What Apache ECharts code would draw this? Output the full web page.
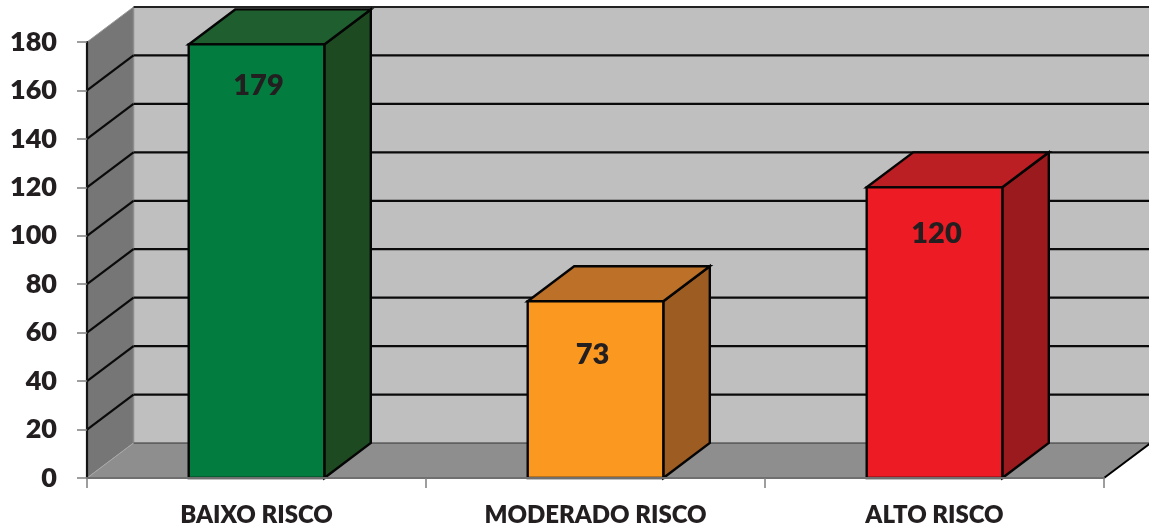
<!DOCTYPE html>
<html>
<head>
<meta charset="utf-8">
<style>html,body{margin:0;padding:0;background:#fff}#c{width:1149px;height:528px}</style>
<script src="https://cdn.jsdelivr.net/npm/echarts@6/dist/echarts.min.js"></script>
</head>
<body>
<div id="c"></div>
<script>
const categories = ['BAIXO RISCO', 'MODERADO RISCO', 'ALTO RISCO'];
const values = [179, 73, 120];
const yTicks = [0, 20, 40, 60, 80, 100, 120, 140, 160, 180];

const frontColors = ['#037d3f', '#fa9820', '#ed1c24'];
const topColors = ['#1e5e2f', '#bd7027', '#bb1f24'];
const sideColors = ['#1e4a22', '#9c5c22', '#9a1a1e'];
const labelShift = [[2, 41], [-3, 53], [2, 46]];
const DX = 46.5, DY = -35, BAR_RATIO = 0.4;
const INK = '#231f20', FONT = 'Lato';

const chart = echarts.init(document.getElementById('c'), null, {renderer: 'canvas'});

function poly(points, fill, stroke, lw) {
  return {type: 'polygon', shape: {points},
    style: {fill, stroke: stroke || 'none', lineWidth: lw || 0, lineJoin: 'miter'}};
}
function line(x1, y1, x2, y2, stroke, lw) {
  return {type: 'line', shape: {x1, y1, x2, y2}, style: {stroke, lineWidth: lw}};
}

function renderWalls(params, api) {
  const cs = params.coordSys;
  const L = cs.x, R = cs.x + cs.width;
  const y0 = api.coord([0, 0])[1], yT = api.coord([0, 180])[1];
  const c = [
    poly([[L + DX, yT + DY], [R + DX, yT + DY], [R + DX, y0 + DY], [L + DX, y0 + DY]], '#bfbfbf'),
    poly([[L, yT], [L + DX, yT + DY], [L + DX, y0 + DY], [L, y0]], '#767676'),
    poly([[L, y0], [L + DX, y0 + DY], [R + DX, y0 + DY], [R, y0]], '#8e8e8e'),
    line(L + DX, yT + DY, L + DX, y0 + DY, '#8c8c8c', 1.5)
  ];
  yTicks.forEach(function (t) {
    const y = api.coord([0, t])[1];
    if (t === 0) {
      c.push(line(L + DX, y + DY, R + DX, y + DY, '#333', 1.2));
      c.push(line(L, y, L + DX, y + DY, '#a8a8a8', 1));
      c.push(line(R, y, R + DX, y + DY, '#000', 2));
    } else {
      c.push(line(L + DX, y + DY, R + DX, y + DY, t === 180 ? '#222' : '#0a0a0a', 2.2));
      if (t !== 180) c.push(line(L, y, L + DX, y + DY, '#0a0a0a', 2.2));
      else c.push(line(L, y, L + DX, y + DY, '#9a9a9a', 1));
    }
  });
  return {type: 'group', children: c};
}

function renderBar(params, api) {
  const i = api.value(0), v = api.value(1);
  const top = api.coord([i, v]), base = api.coord([i, 0]);
  const w = api.size([1, 0])[0] * BAR_RATIO;
  const a = top[0] - w / 2, b = top[0] + w / 2;
  const lw = 2.4, ink = '#050505';
  const shift = labelShift[i];
  return {type: 'group', children: [
    poly([[b, top[1]], [b + DX, top[1] + DY], [b + DX, base[1] + DY], [b, base[1]]], sideColors[i], ink, lw),
    poly([[a, top[1]], [a + DX, top[1] + DY], [b + DX, top[1] + DY], [b, top[1]]], topColors[i], ink, lw),
    poly([[a, top[1]], [b, top[1]], [b, base[1]], [a, base[1]]], frontColors[i], ink, lw),
    {type: 'text', x: top[0] + shift[0], y: top[1] + shift[1], style: {
      text: String(v), fill: INK, font: '800 29px ' + FONT, align: 'center', verticalAlign: 'middle'}}
  ]};
}

chart.setOption({
  animation: false,
  backgroundColor: '#ffffff',
  grid: {left: 87, top: 42, width: 1017, height: 437, containLabel: false},
  xAxis: {
    type: 'category', data: categories, boundaryGap: true, z: 10,
    axisLine: {show: true, lineStyle: {color: '#6f6f6f', width: 2}},
    axisTick: {show: true, alignWithLabel: false, length: 10, lineStyle: {color: '#7f7f7f', width: 1.5}},
    axisLabel: {interval: 0, margin: 24, color: INK, fontFamily: FONT, fontWeight: 800, fontSize: 24,
      verticalAlign: 'top', lineHeight: 26},
    splitLine: {show: false}
  },
  yAxis: {
    type: 'value', min: 0, max: 180, interval: 20, z: 10,
    axisLine: {show: true, lineStyle: {color: '#141414', width: 2.2}},
    axisTick: {show: true, length: 10, lineStyle: {color: '#7f7f7f', width: 1.5}},
    axisLabel: {margin: 30, color: INK, fontFamily: FONT, fontWeight: 800, fontSize: 27, padding: [3, 0, 0, 0]},
    splitLine: {show: false}
  },
  series: [
    {type: 'custom', coordinateSystem: 'cartesian2d', clip: false, silent: true, z: 1,
      renderItem: renderWalls, data: [[0, 0]]},
    {type: 'custom', coordinateSystem: 'cartesian2d', clip: false, silent: true, z: 2,
      renderItem: renderBar, encode: {x: 0, y: 1},
      data: values.map(function (v, i) { return [i, v]; })}
  ]
});
</script>
</body>
</html>
